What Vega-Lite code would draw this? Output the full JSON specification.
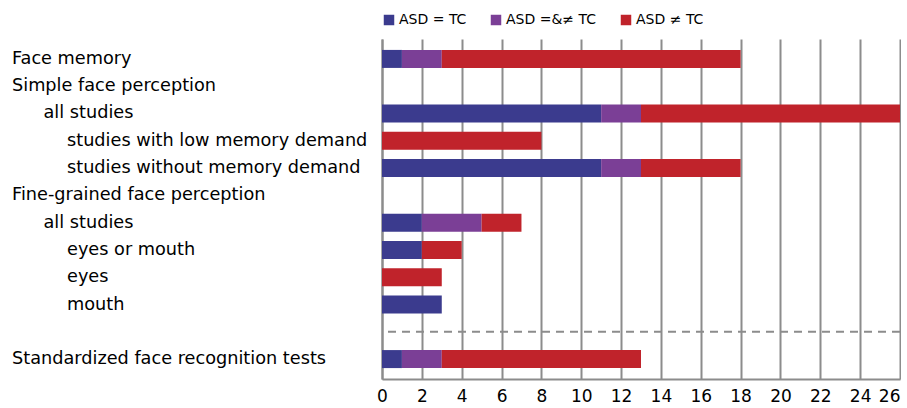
{
  "$schema": "https://vega.github.io/schema/vega-lite/v6.json",
  "width": 518,
  "height": 340,
  "padding": {"left": 12, "top": 13, "right": 0, "bottom": 0},
  "config": {"view": {"stroke": null}, "font": "DejaVu Sans"},
  "datasets": {
    "rows": [
      {"item": "face_memory", "label": "Face memory", "level": 0},
      {"item": "simple", "label": "Simple face perception", "level": 0},
      {"item": "simple_all", "label": "all studies", "level": 1},
      {"item": "simple_low", "label": "studies with low memory demand", "level": 2},
      {"item": "simple_none", "label": "studies without memory demand", "level": 2},
      {"item": "fine", "label": "Fine-grained face perception", "level": 0},
      {"item": "fine_all", "label": "all studies", "level": 1},
      {"item": "fine_eyes_mouth", "label": "eyes or mouth", "level": 2},
      {"item": "fine_eyes", "label": "eyes", "level": 2},
      {"item": "fine_mouth", "label": "mouth", "level": 2},
      {"item": "gap", "label": "", "level": 0},
      {"item": "standardized", "label": "Standardized face recognition tests", "level": 0}
    ],
    "bars": [
      {"item": "face_memory", "group": "ASD = TC", "count": 1},
      {"item": "face_memory", "group": "ASD =&≠ TC", "count": 2},
      {"item": "face_memory", "group": "ASD ≠ TC", "count": 15},
      {"item": "simple_all", "group": "ASD = TC", "count": 11},
      {"item": "simple_all", "group": "ASD =&≠ TC", "count": 2},
      {"item": "simple_all", "group": "ASD ≠ TC", "count": 13},
      {"item": "simple_low", "group": "ASD ≠ TC", "count": 8},
      {"item": "simple_none", "group": "ASD = TC", "count": 11},
      {"item": "simple_none", "group": "ASD =&≠ TC", "count": 2},
      {"item": "simple_none", "group": "ASD ≠ TC", "count": 5},
      {"item": "fine_all", "group": "ASD = TC", "count": 2},
      {"item": "fine_all", "group": "ASD =&≠ TC", "count": 3},
      {"item": "fine_all", "group": "ASD ≠ TC", "count": 2},
      {"item": "fine_eyes_mouth", "group": "ASD = TC", "count": 2},
      {"item": "fine_eyes_mouth", "group": "ASD ≠ TC", "count": 2},
      {"item": "fine_eyes", "group": "ASD ≠ TC", "count": 3},
      {"item": "fine_mouth", "group": "ASD = TC", "count": 3},
      {"item": "standardized", "group": "ASD = TC", "count": 1},
      {"item": "standardized", "group": "ASD =&≠ TC", "count": 2},
      {"item": "standardized", "group": "ASD ≠ TC", "count": 10}
    ]
  },
  "layer": [
    {
      "data": {"name": "bars"},
      "mark": {"type": "bar"},
      "encoding": {
        "y": {
          "field": "item",
          "type": "nominal",
          "scale": {
            "domain": ["face_memory", "simple", "simple_all", "simple_low", "simple_none", "fine", "fine_all", "fine_eyes_mouth", "fine_eyes", "fine_mouth", "gap", "standardized"],
            "paddingInner": 0.34,
            "paddingOuter": 0.4
          },
          "axis": {"labels": false, "ticks": false, "title": null, "grid": false, "domainColor": "#8c8c8c", "domainWidth": 2}
        },
        "x": {
          "field": "count",
          "type": "quantitative",
          "stack": "zero",
          "scale": {"domain": [0, 26], "nice": false},
          "axis": {
            "values": [0, 2, 4, 6, 8, 10, 12, 14, 16, 18, 20, 22, 24, 26],
            "title": null,
            "grid": true,
            "gridColor": "#8c8c8c",
            "gridWidth": 2,
            "ticks": false,
            "labelFontSize": 17,
            "labelColor": "#000000",
            "labelPadding": 9,
            "labelFlush": false,
            "labelAlign": {"condition": {"test": "datum.value >= 26", "value": "right"}, "value": "center"},
            "domainColor": "#8c8c8c",
            "domainWidth": 2
          }
        },
        "color": {
          "field": "group",
          "type": "nominal",
          "scale": {"domain": ["ASD = TC", "ASD =&≠ TC", "ASD ≠ TC"], "range": ["#3b3b8e", "#7b3f96", "#c0232b"]},
          "legend": {
            "orient": "top",
            "direction": "horizontal",
            "title": null,
            "symbolType": "square",
            "symbolSize": 110,
            "symbolStrokeWidth": 0,
            "labelFontSize": 14,
            "labelColor": "#000000",
            "labelOffset": 3,
            "columnPadding": 22,
            "offset": 12
          }
        }
      }
    },
    {
      "data": {"name": "rows"},
      "transform": [{"filter": "datum.item === 'gap'"}],
      "mark": {"type": "rule", "strokeDash": [8, 6], "color": "#8c8c8c", "strokeWidth": 2},
      "encoding": {
        "y": {"field": "item", "type": "nominal"}
      }
    },
    {
      "data": {"name": "rows"},
      "mark": {"type": "text", "align": "left", "baseline": "middle", "fontSize": 17.7, "color": "#000000"},
      "encoding": {
        "y": {"field": "item", "type": "nominal"},
        "x": {"field": "level", "type": "quantitative", "scale": {"domain": [0, 1, 2], "range": [-370, -338.5, -315]}, "axis": null},
        "text": {"field": "label"}
      }
    }
  ],
  "resolve": {"scale": {"x": "independent"}}
}
